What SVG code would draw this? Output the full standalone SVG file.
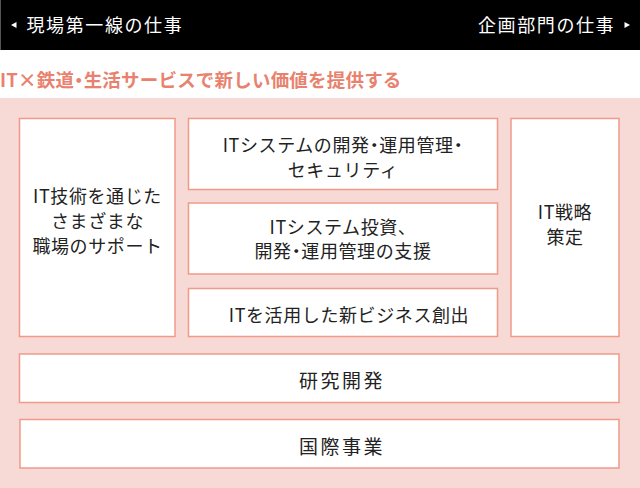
<svg xmlns="http://www.w3.org/2000/svg" width="640" height="488" viewBox="0 0 640 488">
<style>
.hd{font-family:"Noto Sans CJK JP","Noto Sans",sans-serif;font-size:18px;fill:#fff;letter-spacing:1.6px}
.ttl{font-family:"Noto Sans CJK JP","Noto Sans",sans-serif;font-size:18.5px;font-weight:bold;fill:#e8826e;letter-spacing:0.2px}
.box{fill:#fff;stroke:#f09a88;stroke-width:1.5}
.t{font-family:"Noto Sans CJK JP","Noto Sans",sans-serif;font-size:18px;fill:#222;text-anchor:middle;letter-spacing:0.6px}
.tb{font-family:"Noto Sans CJK JP","Noto Sans",sans-serif;font-size:19px;fill:#222;letter-spacing:2.5px}
.p{font-feature-settings:"palt"}
</style>
<rect x="0" y="0" width="640" height="50" fill="#000"/>
<line x1="0.5" y1="0" x2="0.5" y2="50" stroke="#555" stroke-width="1"/>
<polygon points="11,25 16.5,22 16.5,28" fill="#fff"/>
<text class="hd" x="26.5" y="31.5">現場第一線の仕事</text>
<text class="hd" x="478" y="31.5">企画部門の仕事</text>
<polygon points="630,25 624.5,22 624.5,28" fill="#fff"/>
<text class="ttl" x="0" y="86.5">IT×鉄道<tspan class="p">・</tspan>生活サービスで新しい価値を提供する</text>
<rect x="0" y="98" width="640" height="390" fill="#f7d9d5"/>
<g id="n1">
<rect class="box" x="19.5" y="118.5" width="155.5" height="218"/>
<text class="t" x="97.5" y="203">IT技術を通じた</text>
<text class="t" x="97.5" y="228">さまざまな</text>
<text class="t" x="97.5" y="253">職場のサポート</text>
</g>
<g id="n2">
<rect class="box" x="188.5" y="118.5" width="309" height="71"/>
<text class="t" x="343" y="152">ITシステムの開発<tspan class="p">・</tspan>運用管理<tspan class="p">・</tspan></text>
<text class="t" x="343" y="177">セキュリティ</text>
</g>
<g id="n3">
<rect class="box" x="188.5" y="203" width="309" height="71"/>
<text class="t" x="343" y="234">ITシステム投資、</text>
<text class="t" x="343" y="258">開発<tspan class="p">・</tspan>運用管理の支援</text>
</g>
<g id="n4">
<rect class="box" x="188.5" y="288.5" width="309" height="48"/>
<text class="t" x="349" y="322">ITを活用した新ビジネス創出</text>
</g>
<g id="n5">
<rect class="box" x="511" y="118.5" width="108" height="218"/>
<text class="t" x="565" y="219">IT戦略</text>
<text class="t" x="565" y="244">策定</text>
</g>
<g id="n6">
<rect class="box" x="19.5" y="354" width="599.5" height="48.5"/>
<text class="tb" x="299" y="388">研究開発</text>
</g>
<g id="n7">
<rect class="box" x="20" y="419.5" width="599" height="48.5"/>
<text class="tb" x="299" y="454">国際事業</text>
</g>
<g id="connectors"></g>
</svg>
